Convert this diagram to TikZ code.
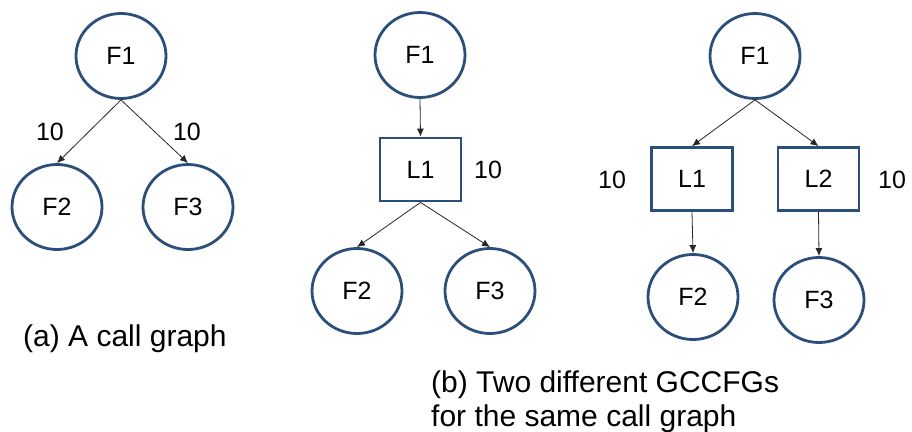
\documentclass[tikz,border=0pt]{standalone}
\usepackage{fontspec}
\setmainfont{Liberation Sans}
\usetikzlibrary{shapes.geometric,arrows.meta}
\definecolor{nodeblue}{RGB}{44,78,122}
\begin{document}
\begin{tikzpicture}[x=1pt,y=-1pt,
  fnode/.style={ellipse,draw=nodeblue,line width=2.8pt,minimum width=90pt,minimum height=85pt,inner sep=0pt,font=\fontsize{25}{28}\selectfont},
  lnode/.style={rectangle,draw=nodeblue,line width=2.8pt,minimum width=81pt,minimum height=63pt,inner sep=0pt,font=\fontsize{25}{28}\selectfont},
  lbl/.style={font=\fontsize{25}{28}\selectfont,inner sep=0pt},
  captext/.style={font=\fontsize{30}{35}\selectfont,inner sep=0pt,anchor=base west},
  arr/.style={-{Latex[length=8pt,width=7pt]},line width=0.8pt,draw=black!85}]
\useasboundingbox (0,0) rectangle (912,431);
% panel (a)
\node[fnode] (aF1) at (121,56) {F1};
\node[fnode] (aF2) at (57,207) {F2};
\node[fnode] (aF3) at (188,207) {F3};
\draw[arr] (aF1.south) -- (aF2.north);
\draw[arr] (aF1.south) -- (aF3.north);
\node[lbl] (aw1) at (50,132) {10};
\node[lbl] (aw2) at (187,132) {10};
\node[captext] (capa) at (23,346) {(a) A call graph};
% panel (b) left
\node[fnode] (bF1) at (420,55) {F1};
\node[lnode] (bL1) at (420.5,169.5) {L1};
\node[fnode] (bF2) at (357,291) {F2};
\node[fnode] (bF3) at (490,291) {F3};
\draw[arr] (bF1.south) -- (bL1.north);
\draw[arr] (bL1.south) -- (bF2.north);
\draw[arr] (bL1.south) -- (bF3.north);
\node[lbl] (bw1) at (488,170) {10};
% panel (b) right
\node[fnode] (cF1) at (755,56) {F1};
\node[lnode] (cL1) at (692,179) {L1};
\node[lnode] (cL2) at (818.5,179) {L2};
\node[fnode] (cF2) at (693,297) {F2};
\node[fnode] (cF3) at (819,300) {F3};
\draw[arr] (cF1.south) -- (cL1.north);
\draw[arr] (cF1.south) -- (cL2.north);
\draw[arr] (cL1.south) -- (cF2.north);
\draw[arr] (cL2.south) -- (cF3.north);
\node[lbl] (cw1) at (612,180) {10};
\node[lbl] (cw2) at (892,180) {10};
\node[captext] (capb1) at (431,392) {(b) Two different GCCFGs};
\node[captext] (capb2) at (431,426) {for the same call graph};
\end{tikzpicture}
\end{document}
